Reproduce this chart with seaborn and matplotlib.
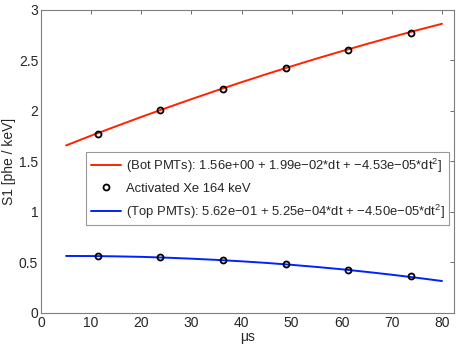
import numpy as np
import pandas as pd
import matplotlib
matplotlib.use("Agg")
import matplotlib.pyplot as plt
import seaborn as sns

dt_fit = [5, 10, 15, 20, 25, 30, 35, 40, 45, 50, 55, 60, 65, 70, 75, 80]
s1_bot_fit = [1.658, 1.755, 1.848, 1.940, 2.029, 2.116, 2.201, 2.284,
              2.364, 2.442, 2.518, 2.591, 2.662, 2.731, 2.798, 2.862]
s1_top_fit = [0.564, 0.563, 0.560, 0.555, 0.547, 0.537, 0.525, 0.511,
              0.495, 0.476, 0.455, 0.432, 0.406, 0.378, 0.348, 0.316]

# measured points (activated Xe 164 keV)
dt_pts = [11.3, 23.8, 36.3, 48.8, 61.3, 73.8]
s1_bot_pts = [1.775, 2.005, 2.22, 2.42, 2.605, 2.775]
s1_top_pts = [0.565, 0.55, 0.525, 0.485, 0.425, 0.365]

bot_label = "(Bot PMTs): 1.56e+00 + 1.99e\u221202*dt + \u22124.53e\u221205*dt$^2$]"
top_label = "(Top PMTs): 5.62e\u221201 + 5.25e\u221204*dt + \u22124.50e\u221205*dt$^2$]"

sns.set_theme(style="white")
plt.rcParams['font.family'] = ['Liberation Sans', 'DejaVu Sans']
plt.rcParams['mathtext.fontset'] = 'custom'
plt.rcParams['mathtext.rm'] = 'Liberation Sans'

fit_df = pd.DataFrame({"dt": dt_fit, "bot": s1_bot_fit, "top": s1_top_fit})

fig = plt.figure(figsize=(4.63, 3.52), dpi=100)
ax = fig.add_axes([0.0886, 0.111, 0.892, 0.861])

sns.lineplot(data=fit_df, x="dt", y="bot", color="#ff2200", linewidth=1.4, ax=ax, label=bot_label)
ax.plot(dt_pts, s1_bot_pts, linestyle="none", marker="o", markersize=4.3,
        markerfacecolor="none", markeredgecolor="black", markeredgewidth=1.3,
        label="Activated Xe 164 keV", zorder=5)
sns.lineplot(data=fit_df, x="dt", y="top", color="#0022ff", linewidth=1.4, ax=ax, label=top_label)
ax.plot(dt_pts, s1_top_pts, linestyle="none", marker="o", markersize=4.3,
        markerfacecolor="none", markeredgecolor="black", markeredgewidth=1.3, zorder=5)

ax.set_xlim(0, 82.4)
ax.set_ylim(0, 3)
ax.set_xticks(range(0, 81, 10))
ax.set_yticks([0, 0.5, 1, 1.5, 2, 2.5, 3])
ax.set_yticklabels(["0", "0.5", "1", "1.5", "2", "2.5", "3"])
ax.tick_params(direction="in", length=3, width=0.6, color="#555555", labelsize=10,
               top=True, right=True, pad=2)
for sp in ax.spines.values():
    sp.set_color("#7f7f7f")
    sp.set_linewidth(0.8)

ax.set_xlabel("\u03bcs", fontsize=10, labelpad=0)
ax.set_ylabel("S1 [phe / keV]", fontsize=10, labelpad=2)

leg = ax.legend(loc="upper left", bbox_to_anchor=(0.109, 0.531), fontsize=9.4,
                frameon=True, fancybox=False, handlelength=2.3, handletextpad=0.4,
                borderpad=0.35, labelspacing=0.6, borderaxespad=0)
leg.get_frame().set_edgecolor("#7f7f7f")
leg.get_frame().set_linewidth(0.8)

fig.savefig("out.png", dpi=100)
